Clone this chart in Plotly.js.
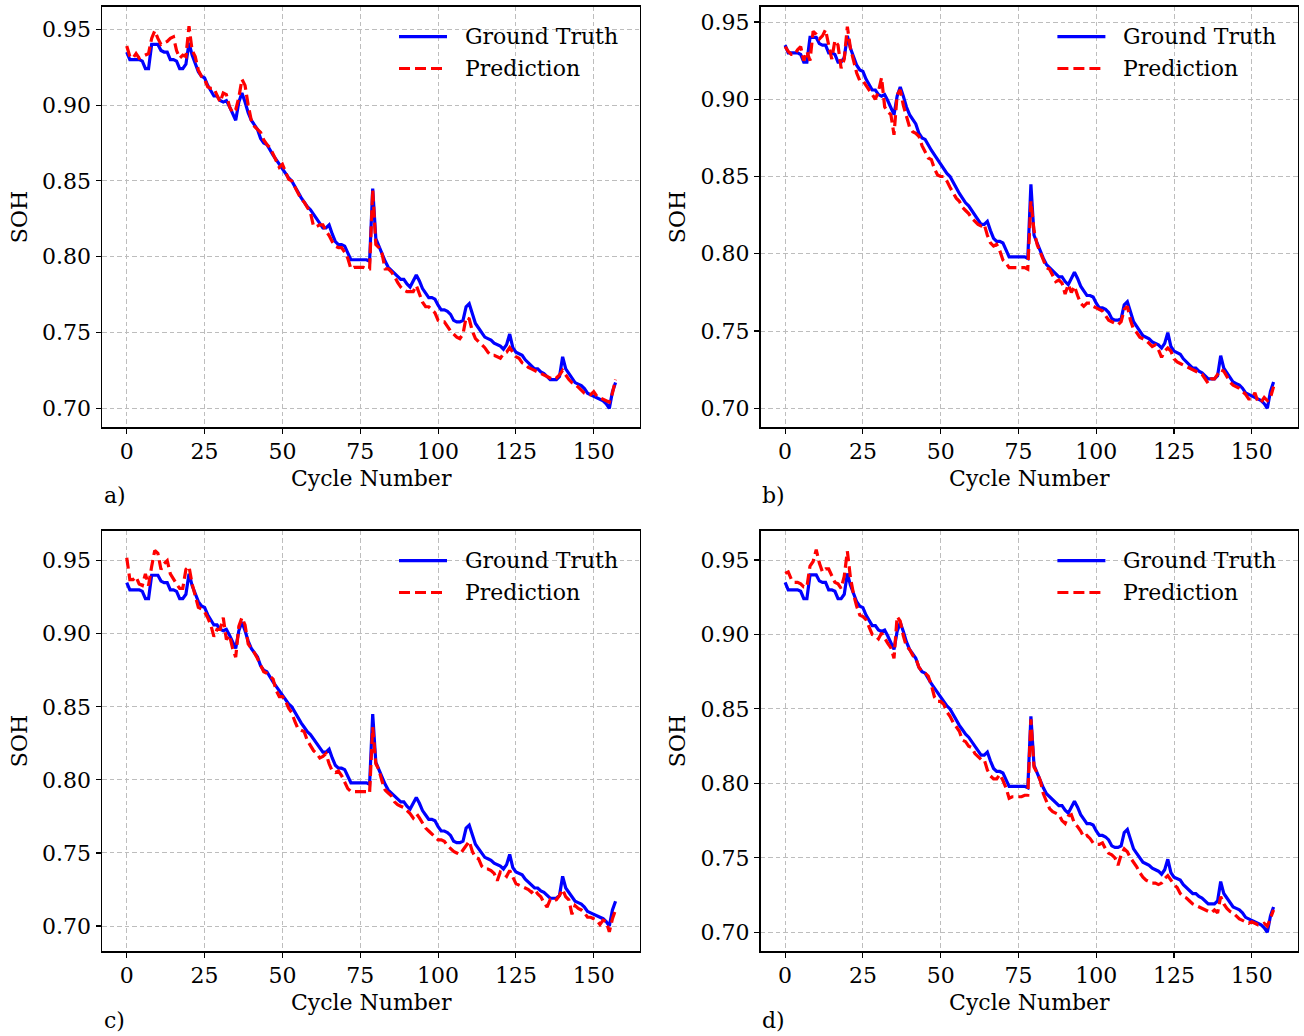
<!DOCTYPE html>
<html>
<head>
<meta charset="utf-8">
<script src="https://cdn.plot.ly/plotly-3.0.1.min.js"></script>
<style>
  html, body { margin: 0; padding: 0; background: #ffffff; }
  #chart { width: 1304px; height: 1036px; }
</style>
</head>
<body>
<div id="chart"></div>
<script>
// ---------------- data ----------------
const seriesNames = ["Ground Truth", "Prediction"];
const panelLabels = ["a)", "b)", "c)", "d)"];
const xTickVals = [0, 25, 50, 75, 100, 125, 150];
const yTickVals = [0.70, 0.75, 0.80, 0.85, 0.90, 0.95];

// SOH ground truth, cycle 0..157
const groundTruth = [
  0.935, 0.930, 0.930, 0.930, 0.930, 0.929, 0.924, 0.924, 0.940, 0.940,
  0.940, 0.936, 0.935, 0.935, 0.930, 0.930, 0.929, 0.924, 0.924, 0.927,
  0.941, 0.933, 0.927, 0.922, 0.919, 0.918, 0.913, 0.909, 0.906, 0.906,
  0.903, 0.902, 0.903, 0.899, 0.895, 0.890, 0.902, 0.908, 0.902, 0.895,
  0.890, 0.887, 0.884, 0.878, 0.875, 0.874, 0.870, 0.867, 0.864, 0.861,
  0.858, 0.855, 0.852, 0.850, 0.846, 0.842, 0.839, 0.836, 0.833, 0.831,
  0.828, 0.825, 0.822, 0.819, 0.819, 0.821, 0.815, 0.810, 0.808, 0.808,
  0.807, 0.802, 0.798, 0.798, 0.798, 0.798, 0.798, 0.798, 0.797, 0.845,
  0.812, 0.807, 0.801, 0.797, 0.793, 0.791, 0.789, 0.787, 0.785, 0.785,
  0.782, 0.780, 0.784, 0.788, 0.784, 0.779, 0.776, 0.773, 0.773, 0.772,
  0.768, 0.765, 0.765, 0.764, 0.762, 0.758, 0.757, 0.757, 0.758, 0.767,
  0.769, 0.763, 0.756, 0.753, 0.750, 0.747, 0.746, 0.745, 0.743, 0.742,
  0.741, 0.739, 0.742, 0.749, 0.740, 0.737, 0.736, 0.735, 0.732, 0.730,
  0.728, 0.726, 0.726, 0.724, 0.723, 0.721, 0.719, 0.719, 0.719, 0.721,
  0.734, 0.726, 0.723, 0.720, 0.717, 0.716, 0.715, 0.713, 0.710, 0.709,
  0.708, 0.707, 0.706, 0.705, 0.703, 0.700, 0.711, 0.717
];

const predictionA = [
  0.939, 0.932, 0.931, 0.934, 0.931, 0.932, 0.933, 0.934, 0.944, 0.949,
  0.944, 0.940, 0.941, 0.942, 0.944, 0.945, 0.936, 0.931, 0.933, 0.932,
  0.952, 0.936, 0.932, 0.923, 0.919, 0.917, 0.912, 0.911, 0.911, 0.906,
  0.902, 0.908, 0.907, 0.899, 0.895, 0.897, 0.905, 0.917, 0.913, 0.900,
  0.890, 0.886, 0.884, 0.882, 0.877, 0.874, 0.872, 0.868, 0.863, 0.859,
  0.861, 0.856, 0.851, 0.850, 0.846, 0.841, 0.838, 0.836, 0.832, 0.829,
  0.820, 0.820, 0.821, 0.821, 0.817, 0.814, 0.810, 0.807, 0.806, 0.806,
  0.803, 0.799, 0.792, 0.793, 0.793, 0.793, 0.793, 0.792, 0.792, 0.844,
  0.808, 0.806, 0.802, 0.792, 0.792, 0.790, 0.787, 0.783, 0.780, 0.778,
  0.777, 0.777, 0.777, 0.781, 0.775, 0.770, 0.767, 0.767, 0.765, 0.763,
  0.758, 0.757, 0.757, 0.754, 0.751, 0.749, 0.747, 0.746, 0.749, 0.760,
  0.759, 0.751, 0.746, 0.744, 0.742, 0.740, 0.737, 0.735, 0.735, 0.734,
  0.733, 0.736, 0.737, 0.740, 0.737, 0.734, 0.733, 0.730, 0.729, 0.727,
  0.726, 0.725, 0.724, 0.723, 0.722, 0.721, 0.720, 0.719, 0.720, 0.722,
  0.725, 0.722, 0.719, 0.717, 0.716, 0.714, 0.712, 0.710, 0.709, 0.709,
  0.711, 0.708, 0.707, 0.706, 0.705, 0.704, 0.710, 0.719
];

const predictionB = [
  0.934, 0.931, 0.929, 0.929, 0.932, 0.934, 0.925, 0.931, 0.925, 0.944,
  0.942, 0.939, 0.941, 0.945, 0.935, 0.926, 0.938, 0.935, 0.920, 0.926,
  0.947, 0.933, 0.925, 0.917, 0.912, 0.912, 0.909, 0.906, 0.903, 0.900,
  0.905, 0.914, 0.895, 0.892, 0.890, 0.877, 0.903, 0.906, 0.896, 0.888,
  0.882, 0.879, 0.878, 0.876, 0.870, 0.866, 0.862, 0.861, 0.855, 0.851,
  0.850, 0.850, 0.847, 0.843, 0.839, 0.836, 0.834, 0.830, 0.828, 0.826,
  0.823, 0.821, 0.819, 0.818, 0.819, 0.812, 0.807, 0.805, 0.806, 0.802,
  0.796, 0.794, 0.791, 0.791, 0.791, 0.791, 0.791, 0.791, 0.790, 0.834,
  0.815, 0.806, 0.801, 0.796, 0.791, 0.790, 0.786, 0.782, 0.783, 0.781,
  0.774, 0.780, 0.775, 0.779, 0.773, 0.768, 0.766, 0.768, 0.768, 0.766,
  0.765, 0.764, 0.763, 0.760, 0.757, 0.756, 0.755, 0.754, 0.756, 0.764,
  0.766, 0.757, 0.751, 0.749, 0.746, 0.745, 0.744, 0.742, 0.740, 0.741,
  0.738, 0.733, 0.737, 0.739, 0.737, 0.732, 0.730, 0.729, 0.728, 0.727,
  0.726, 0.725, 0.724, 0.723, 0.722, 0.719, 0.716, 0.719, 0.719, 0.722,
  0.725, 0.724, 0.720, 0.717, 0.715, 0.714, 0.713, 0.711, 0.709, 0.706,
  0.706, 0.710, 0.704, 0.704, 0.707, 0.705, 0.707, 0.714
];

const predictionC = [
  0.952, 0.937, 0.937, 0.939, 0.934, 0.933, 0.941, 0.933, 0.946, 0.957,
  0.955, 0.944, 0.948, 0.950, 0.941, 0.937, 0.934, 0.931, 0.931, 0.944,
  0.946, 0.934, 0.926, 0.918, 0.917, 0.915, 0.911, 0.906, 0.898, 0.903,
  0.903, 0.911, 0.896, 0.899, 0.890, 0.884, 0.905, 0.911, 0.906, 0.893,
  0.890, 0.887, 0.883, 0.879, 0.874, 0.873, 0.871, 0.869, 0.861, 0.857,
  0.857, 0.854, 0.849, 0.846, 0.840, 0.835, 0.834, 0.833, 0.827, 0.823,
  0.820, 0.818, 0.815, 0.816, 0.818, 0.811, 0.806, 0.805, 0.806, 0.803,
  0.798, 0.794, 0.792, 0.792, 0.792, 0.792, 0.792, 0.792, 0.791, 0.836,
  0.811, 0.807, 0.799, 0.793, 0.791, 0.789, 0.785, 0.783, 0.782, 0.781,
  0.779, 0.777, 0.774, 0.777, 0.774, 0.770, 0.767, 0.765, 0.763, 0.761,
  0.759, 0.759, 0.758, 0.755, 0.753, 0.751, 0.750, 0.749, 0.752, 0.755,
  0.758, 0.751, 0.747, 0.746, 0.741, 0.739, 0.739, 0.738, 0.736, 0.731,
  0.737, 0.736, 0.734, 0.738, 0.733, 0.729, 0.728, 0.727, 0.726, 0.725,
  0.723, 0.725, 0.722, 0.720, 0.716, 0.713, 0.718, 0.717, 0.718, 0.721,
  0.725, 0.720, 0.718, 0.708, 0.714, 0.712, 0.711, 0.709, 0.706, 0.706,
  0.705, 0.704, 0.701, 0.704, 0.703, 0.696, 0.705, 0.711
];

const predictionD = [
  0.941, 0.942, 0.937, 0.935, 0.935, 0.934, 0.932, 0.932, 0.946, 0.949,
  0.957, 0.948, 0.942, 0.944, 0.944, 0.939, 0.935, 0.934, 0.931, 0.939,
  0.956, 0.938, 0.927, 0.919, 0.913, 0.912, 0.910, 0.905, 0.900, 0.899,
  0.897, 0.901, 0.897, 0.894, 0.891, 0.884, 0.912, 0.909, 0.899, 0.892,
  0.890, 0.886, 0.884, 0.878, 0.875, 0.874, 0.872, 0.866, 0.858, 0.855,
  0.855, 0.853, 0.848, 0.845, 0.841, 0.838, 0.835, 0.829, 0.828, 0.825,
  0.824, 0.820, 0.818, 0.816, 0.816, 0.809, 0.805, 0.803, 0.803, 0.806,
  0.802, 0.797, 0.790, 0.791, 0.791, 0.791, 0.791, 0.792, 0.792, 0.843,
  0.811, 0.807, 0.802, 0.793, 0.788, 0.783, 0.781, 0.780, 0.779, 0.775,
  0.773, 0.778, 0.779, 0.773, 0.771, 0.768, 0.764, 0.765, 0.763, 0.760,
  0.759, 0.759, 0.760, 0.756, 0.753, 0.752, 0.750, 0.745, 0.752, 0.756,
  0.754, 0.750, 0.747, 0.744, 0.740, 0.737, 0.735, 0.734, 0.733, 0.733,
  0.732, 0.733, 0.736, 0.738, 0.735, 0.732, 0.730, 0.726, 0.724, 0.723,
  0.721, 0.719, 0.718, 0.717, 0.716, 0.715, 0.714, 0.713, 0.715, 0.713,
  0.724, 0.719, 0.716, 0.714, 0.713, 0.711, 0.709, 0.708, 0.707, 0.706,
  0.707, 0.706, 0.705, 0.705, 0.706, 0.704, 0.710, 0.715
];

const predictions = [predictionA, predictionB, predictionC, predictionD];

// ---------------- layout helpers ----------------
const W = 1304, H = 1036;
const FONT = "DejaVu Serif, Liberation Serif, serif";
const FS = 22;
const px = X => X / W;
const py = Y => 1 - Y / H;

// plot-area boxes in pixels [left, top, right, bottom]
const boxes = [
  [102.3, 6.7, 640, 427.3],
  [760.7, 6.7, 1298, 427.3],
  [102.3, 530.7, 640, 951.3],
  [760.7, 530.7, 1298, 951.3]
];
const yRanges = [
  [0.6875, 0.9649],
  [0.6877, 0.9599],
  [0.6827, 0.9705],
  [0.6872, 0.9697]
];
const xRange = [-7.85, 164.85];

const traces = [];
const layout = {
  width: W, height: H,
  margin: {l: 0, r: 0, t: 0, b: 0},
  paper_bgcolor: "#ffffff",
  plot_bgcolor: "#ffffff",
  showlegend: false,
  font: {family: FONT, size: FS, color: "#000000"},
  shapes: [],
  annotations: []
};

for (let i = 0; i < 4; i++) {
  const k = i === 0 ? "" : String(i + 1);
  const b = boxes[i];
  traces.push({
    type: "scatter", mode: "lines",
    y: groundTruth, name: seriesNames[0],
    xaxis: "x" + k, yaxis: "y" + k,
    line: {color: "#0000ff", width: 3.2}
  });
  traces.push({
    type: "scatter", mode: "lines",
    y: predictions[i], name: seriesNames[1],
    xaxis: "x" + k, yaxis: "y" + k,
    line: {color: "#ff0000", width: 3.2, dash: "11px,5px"}
  });
  const common = {
    showline: true, mirror: true, linecolor: "#000000", linewidth: 1.3,
    ticks: "outside", ticklen: 5.5, tickwidth: 1.1, tickcolor: "#000000",
    showgrid: true, gridcolor: "#bdbdbd", gridwidth: 1, griddash: "4.5px,3px",
    zeroline: false, automargin: false,
    tickfont: {family: FONT, size: FS, color: "#000000"}
  };
  layout["xaxis" + k] = Object.assign({}, common, {
    domain: [px(b[0]), px(b[2])],
    anchor: "y" + k,
    range: xRange,
    tickmode: "array", tickvals: xTickVals,
    ticklabelstandoff: -2,
    title: {text: "Cycle Number", font: {family: FONT, size: FS}, standoff: 8}
  });
  layout["yaxis" + k] = Object.assign({}, common, {
    domain: [py(b[3]), py(b[1])],
    anchor: "x" + k,
    range: yRanges[i],
    tickmode: "array", tickvals: yTickVals, tickformat: ".2f",
    title: {text: "SOH", font: {family: FONT, size: FS}, standoff: 8}
  });

  // legend drawn inside the upper right of each panel
  const dx = b[0] - boxes[0][0];
  const dy = b[1] - boxes[0][1];
  const rows = [
    {y: 36.7, color: "#0000ff", dash: "solid", text: seriesNames[0]},
    {y: 68.5, color: "#ff0000", dash: "11px,5px", text: seriesNames[1]}
  ];
  rows.forEach(r => {
    layout.shapes.push({
      type: "line", xref: "paper", yref: "paper",
      x0: px(399 + dx), x1: px(447 + dx),
      y0: py(r.y + dy), y1: py(r.y + dy),
      line: {color: r.color, width: 3.2, dash: r.dash}
    });
    layout.annotations.push({
      xref: "paper", yref: "paper",
      x: px(463 + dx), y: py(r.y + dy),
      xanchor: "left", yanchor: "middle",
      text: r.text, showarrow: false,
      font: {family: FONT, size: FS, color: "#000000"}
    });
  });

  // panel letter
  layout.annotations.push({
    xref: "paper", yref: "paper",
    x: px(102 + dx), y: py(496 + dy),
    xanchor: "left", yanchor: "middle",
    text: panelLabels[i], showarrow: false,
    font: {family: FONT, size: FS, color: "#000000"}
  });
}

Plotly.newPlot("chart", traces, layout, {displayModeBar: false, staticPlot: true});
</script>
</body>
</html>
